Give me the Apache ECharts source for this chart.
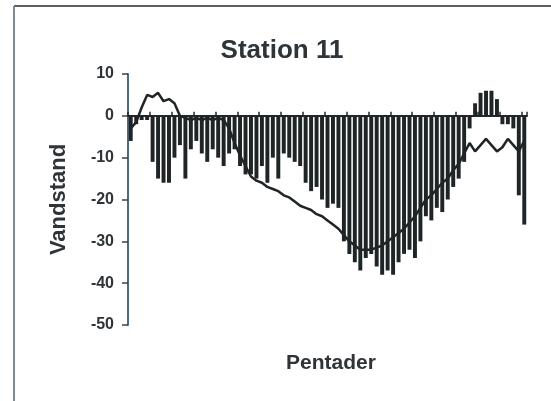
<!DOCTYPE html>
<html>
<head>
<meta charset="utf-8">
<script src="https://cdn.jsdelivr.net/npm/echarts@6/dist/echarts.min.js"></script>
<style>
html, body { margin: 0; padding: 0; background: #fff; }
#chart { width: 551px; height: 401px; }
</style>
</head>
<body>
<div id="chart"></div>
<script>
// pentads 1..73 (no labels shown on the axis)
var pentader = Array.from({ length: 73 }, function (_, i) { return String(i + 1); });

// single pentad values (bars)
var vandstand = [
	-6, -2, -1, -1, -11, -15, -16, -16, -10, -7,
	-15, -8, -6, -9, -11, -8, -10, -12, -9, -8,
	-12, -14, -14, -15, -12, -16, -10, -15, -9, -10,
	-11, -12, -16, -18, -17, -20, -22, -21, -22, -30,
	-33, -35, -37, -34, -33, -36, -38, -37, -38, -35,
	-33, -32, -34, -30, -24, -25, -22, -23, -20, -17,
	-15, -11, -3, 3, 5.5, 6, 6, 4, -2, -2,
	-3, -19, -26
];

// running line
var middel = [
	-3, -1.5, 2, 5, 4.5, 5.5, 3.5, 4, 3, 0,
	-0.5, -1, -0.5, -1, -0.5, -1, -0.5, -1, -3, -6.5,
	-9.5, -12, -14.5, -15.5, -16, -17, -17.5, -18, -19, -19.5,
	-20.5, -21.5, -22, -22.5, -23.5, -24, -25, -26, -27, -28.5,
	-30, -31, -32, -32, -32, -31.5, -31, -30, -29, -28,
	-27, -25.5, -24, -22, -20, -19, -17.5, -16, -15, -13,
	-11.5, -9, -6.5, -8.5, -7, -5.5, -7, -8.5, -7.5, -5.5,
	-7, -8.5, -6
];

var yTicks = { min: -50, max: 10, interval: 10 };

var chart = echarts.init(document.getElementById('chart'));
var txt = '#2e3438';
chart.setOption({
	backgroundColor: '#fff',
	animation: false,
	title: [
		{
			text: 'Station 11',
			left: 277,
			top: 33,
			textAlign: 'center',
			textStyle: { fontFamily: 'Liberation Sans', fontWeight: 'bold', fontSize: 26, color: txt }
		},
		{
			text: 'Pentader',
			left: 326,
			top: 348,
			textAlign: 'center',
			textStyle: { fontFamily: 'Liberation Sans', fontWeight: 'bold', fontSize: 21, color: txt }
		}
	],
	graphic: [
		{ type: 'line', shape: { x1: 14, y1: 6, x2: 551, y2: 6 }, style: { stroke: '#5a5f62', lineWidth: 2 } },
		{ type: 'line', shape: { x1: 14, y1: 6, x2: 14, y2: 401 }, style: { stroke: '#7d8a92', lineWidth: 2 } }
	],
	grid: { left: 128, right: 24, top: 74, bottom: 76 },
	xAxis: {
		type: 'category',
		data: pentader,
		axisLine: { onZero: true, lineStyle: { color: '#22282a', width: 2 } },
		axisTick: { show: true, inside: true, length: 4, lineStyle: { color: '#22282a', width: 1.5 } },
		axisLabel: { show: false },
		splitLine: { show: false }
	},
	yAxis: {
		type: 'value',
		min: yTicks.min,
		max: yTicks.max,
		interval: yTicks.interval,
		name: 'Vandstand',
		nameLocation: 'middle',
		nameGap: 58,
		nameTextStyle: { fontFamily: 'Liberation Sans', fontWeight: 'bold', fontSize: 22, color: txt },
		axisLine: { show: true, lineStyle: { color: '#4f6a7a', width: 2 } },
		axisTick: { show: true, length: 6, lineStyle: { color: '#3b4448', width: 1.5 } },
		axisLabel: { fontFamily: 'Liberation Sans', fontWeight: 'bold', fontSize: 16, color: txt, margin: 14 },
		splitLine: { show: false }
	},
	series: [
		{
			type: 'bar',
			data: vandstand,
			barWidth: '72%',
			itemStyle: { color: '#1f2527' }
		},
		{
			type: 'line',
			data: middel,
			symbol: 'none',
			z: 3,
			lineStyle: { color: '#1f2527', width: 2.5 }
		}
	]
});
</script>
</body>
</html>
